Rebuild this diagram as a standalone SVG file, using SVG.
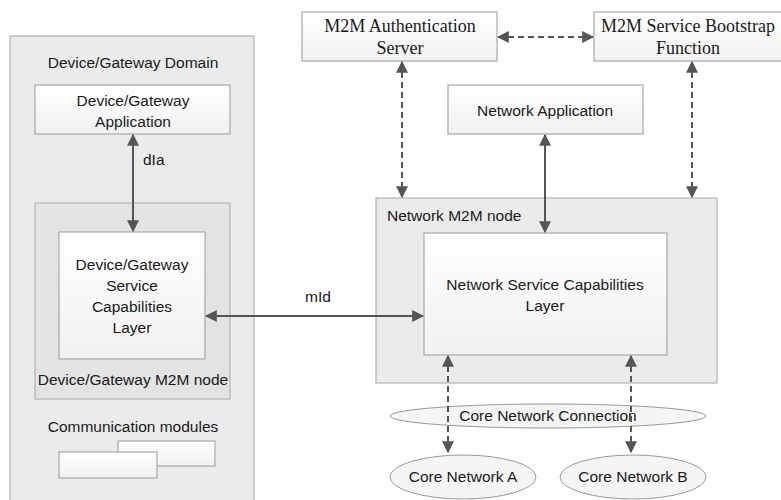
<svg xmlns="http://www.w3.org/2000/svg" width="781" height="500" viewBox="0 0 781 500">
<defs>
<linearGradient id="wg" x1="0" y1="0" x2="0" y2="1"><stop offset="0" stop-color="#ffffff"/><stop offset="1" stop-color="#f1f1f1"/></linearGradient>
<marker id="ah" viewBox="0 0 10 10" refX="9" refY="5" markerWidth="12" markerHeight="12" markerUnits="userSpaceOnUse" orient="auto-start-reverse"><path d="M0,0 L10,5 L0,10 z" fill="#555"/></marker>
<style>
.panel{fill:#ebebeb;stroke:#b3b3b3;stroke-width:1.2}
.node{fill:#e3e3e3;stroke:#b3b3b3;stroke-width:1.2}
.box{fill:url(#wg);stroke:#a8a8a8;stroke-width:1.2}
.ell{fill:#f5f5f5;stroke:#9a9a9a;stroke-width:1}
.t{font-family:"Liberation Sans","DejaVu Sans",sans-serif;font-size:15.5px;fill:#1a1a1a;text-anchor:middle}
.s{font-family:"Liberation Serif","Times New Roman",serif;font-size:18px;fill:#1a1a1a;text-anchor:middle}
.solid{stroke:#555;stroke-width:2;fill:none}
.dash{stroke:#555;stroke-width:2;fill:none;stroke-dasharray:6 4}
</style>
</defs>
<rect width="781" height="500" fill="#fff"/>
<g id="dg-domain">
<rect class="panel" x="10" y="36" width="244" height="470"/>
<text class="t" x="133" y="68">Device/Gateway Domain</text>
</g>
<g id="dg-app">
<rect class="box" x="35" y="85" width="195" height="49"/>
<text class="t" x="133" y="106">Device/Gateway</text>
<text class="t" x="133" y="127">Application</text>
</g>
<g id="dg-node">
<rect class="node" x="35" y="203" width="195" height="196"/>
<text class="t" x="133" y="385">Device/Gateway M2M node</text>
</g>
<g id="dg-scl">
<rect class="box" x="59" y="232" width="146" height="127"/>
<text class="t" x="132" y="270">Device/Gateway</text>
<text class="t" x="132" y="291">Service</text>
<text class="t" x="132" y="312">Capabilities</text>
<text class="t" x="132" y="333">Layer</text>
</g>
<g id="comm-modules">
<text class="t" x="133" y="432">Communication modules</text>
<rect class="box" x="118" y="441" width="97" height="25"/>
<rect class="box" x="59" y="452" width="98" height="26"/>
</g>
<g id="auth-server">
<rect class="box" x="302" y="12" width="195" height="49"/>
<text class="s" x="400" y="32">M2M Authentication</text>
<text class="s" x="400" y="54">Server</text>
</g>
<g id="bootstrap">
<rect class="box" x="594" y="12" width="195" height="49"/>
<text class="s" x="688" y="32">M2M Service Bootstrap</text>
<text class="s" x="688" y="54">Function</text>
</g>
<g id="net-app">
<rect class="box" x="448" y="85" width="195" height="49"/>
<text class="t" x="545" y="116">Network Application</text>
</g>
<g id="net-node">
<rect class="node" x="376" y="198" width="341" height="185" style="fill:#ebebeb"/>
<text class="t" x="387" y="221" style="text-anchor:start">Network M2M node</text>
</g>
<g id="nscl">
<rect class="box" x="424" y="233" width="243" height="122"/>
<text class="t" x="545" y="290">Network Service Capabilities</text>
<text class="t" x="545" y="311">Layer</text>
</g>
<g id="core-conn">
<ellipse class="ell" cx="548" cy="416" rx="158" ry="12"/>
<text class="t" x="548" y="421">Core Network Connection</text>
</g>
<g id="core-a">
<ellipse class="ell" cx="463" cy="477" rx="73" ry="22"/>
<text class="t" x="463" y="482">Core Network A</text>
</g>
<g id="core-b">
<ellipse class="ell" cx="633" cy="477" rx="73" ry="22"/>
<text class="t" x="633" y="482">Core Network B</text>
</g>
<g id="connectors">
<line class="solid" x1="133" y1="135" x2="133" y2="231" marker-start="url(#ah)" marker-end="url(#ah)"/>
<text class="t" x="143" y="165" style="text-anchor:start">dIa</text>
<line class="solid" x1="206" y1="316" x2="423" y2="316" marker-start="url(#ah)" marker-end="url(#ah)"/>
<text class="t" x="318" y="302">mId</text>
<line class="solid" x1="545" y1="135" x2="545" y2="232" marker-start="url(#ah)" marker-end="url(#ah)"/>
<line class="dash" x1="498" y1="37" x2="593" y2="37" marker-start="url(#ah)" marker-end="url(#ah)"/>
<line class="dash" x1="402" y1="62" x2="402" y2="197" marker-start="url(#ah)" marker-end="url(#ah)"/>
<line class="dash" x1="692" y1="62" x2="692" y2="197" marker-start="url(#ah)" marker-end="url(#ah)"/>
<line class="dash" x1="448" y1="356" x2="448" y2="452" marker-start="url(#ah)" marker-end="url(#ah)"/>
<line class="dash" x1="631" y1="356" x2="631" y2="452" marker-start="url(#ah)" marker-end="url(#ah)"/>
</g>
</svg>
